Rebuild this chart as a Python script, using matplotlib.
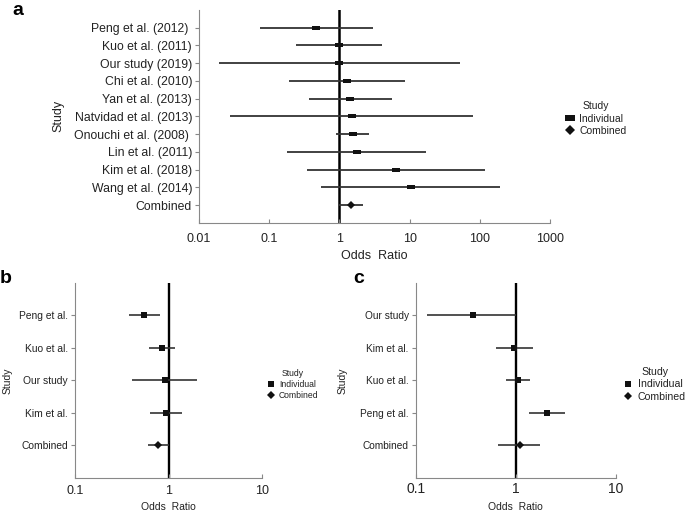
import numpy as np
from matplotlib import pyplot as plt
from matplotlib.lines import Line2D

plt.rcParams['font.family'] = ['Liberation Sans', 'DejaVu Sans']

# Data:

# panel a, top to bottom
a_studies = ['Peng et al. (2012) ', 'Kuo et al. (2011)', 'Our study (2019)', 'Chi et al. (2010)', 'Yan et al. (2013)',
             'Natvidad et al. (2013)', 'Onouchi et al. (2008) ', 'Lin et al. (2011)', 'Kim et al. (2018)',
             'Wang et al. (2014)', 'Combined']
a_or = [0.46, 0.98, 0.98, 1.27, 1.43, 1.5, 1.55, 1.77, 6.5, 10.5, 1.48]
a_lo = [0.074, 0.24, 0.019, 0.19, 0.37, 0.028, 0.9, 0.18, 0.34, 0.55, 1.0]
a_hi = [3.0, 4.0, 52, 8.7, 5.6, 80, 2.6, 17, 118, 194, 2.2]

# panel b
b_studies = ['Peng et al.', 'Kuo et al.', 'Our study', 'Kim et al.', 'Combined']
b_or = [0.55, 0.86, 0.91, 0.94, 0.78]
b_lo = [0.38, 0.62, 0.41, 0.64, 0.6]
b_hi = [0.81, 1.18, 2.0, 1.38, 1.0]

# panel c
c_studies = ['Our study', 'Kim et al.', 'Kuo et al.', 'Peng et al.', 'Combined']
c_or = [0.37, 0.96, 1.04, 2.06, 1.09]
c_lo = [0.13, 0.64, 0.79, 1.37, 0.66]
c_hi = [1.0, 1.48, 1.39, 3.1, 1.75]

rect = [(-1, -0.55), (1, -0.55), (1, 0.55), (-1, 0.55), (-1, -0.55)]


def forestPlot(ax, studies, odds, lo, hi, xlim, ticks, sq, dm_size, lw, fs_y, fs_x, fs_lab, xpad=5, ylabpad=3):
    n = len(studies)
    ypos = np.arange(n, 0, -1)
    for i in range(n):
        ax.plot([lo[i], hi[i]], [ypos[i], ypos[i]], color='#333333', lw=lw, solid_capstyle='butt', zorder=2)
        if studies[i] == 'Combined':
            ax.plot(odds[i], ypos[i], marker='D', ms=dm_size, color='#111111', mew=0, zorder=3)
        else:
            ax.plot(odds[i], ypos[i], marker=sq[0], ms=sq[1], color='#111111', mew=0, zorder=3)
    ax.axvline(1, color='black', lw=lw + 0.5, zorder=1)
    ax.set_xscale('log')
    ax.set_xlim(xlim)
    ax.set_ylim(0, n + 1)
    ax.set_xticks(ticks)
    ax.set_xticklabels(['%g' % t for t in ticks])
    ax.minorticks_off()
    ax.set_yticks(ypos)
    ax.set_yticklabels(studies)
    for s in ['top', 'right']:
        ax.spines[s].set_visible(False)
    for s in ['left', 'bottom']:
        ax.spines[s].set_color('#888888')
    ax.tick_params(axis='y', colors='#888888', labelcolor='#222222', labelsize=fs_y, length=3, pad=2)
    ax.tick_params(axis='x', direction='in', colors='#888888', labelcolor='#222222', labelsize=fs_x, length=3,
                   pad=xpad)
    ax.set_xlabel('Odds  Ratio', fontsize=fs_lab, color='#222222', labelpad=4)
    ax.set_ylabel('Study', fontsize=fs_lab, color='#222222', labelpad=ylabpad)
    return None


def studyLegend(ax, anchor, sq_marker, sq_size, dm_size, fs):
    handles = [Line2D([], [], ls='none', marker=sq_marker, ms=sq_size, color='#111111', mew=0, label='Individual'),
               Line2D([], [], ls='none', marker='D', ms=dm_size, color='#111111', mew=0, label='Combined')]
    leg = ax.legend(handles=handles, title='Study', loc='center left', bbox_to_anchor=anchor, frameon=False,
                    fontsize=fs, title_fontsize=fs, handlelength=0.8, handletextpad=0.5, labelspacing=0.25,
                    borderaxespad=0, borderpad=0)
    leg.get_title().set_color('#222222')
    for t in leg.get_texts():
        t.set_color('#222222')
    return None


fig = plt.figure(figsize=(6.85, 5.15), dpi=100)

ax_a = fig.add_axes([0.2905, 0.567, 0.5125, 0.414])
forestPlot(ax_a, a_studies, a_or, a_lo, a_hi, (0.01, 1000), [0.01, 0.1, 1, 10, 100, 1000],
           (rect, 5.5), 4.5, 1.3, 8.8, 9, 9, xpad=7, ylabpad=7)
studyLegend(ax_a, (1.045, 0.49), rect, 7, 5.5, 7.5)

ax_b = fig.add_axes([0.1095, 0.072, 0.273, 0.3785])
forestPlot(ax_b, b_studies, b_or, b_lo, b_hi, (0.1, 10), [0.1, 1, 10], ('s', 4.5), 4, 1.2, 7.4, 9, 7.5,
           ylabpad=5)
studyLegend(ax_b, (1.03, 0.48), 's', 4.5, 4, 6.2)

ax_c = fig.add_axes([0.607, 0.072, 0.292, 0.3785])
forestPlot(ax_c, c_studies, c_or, c_lo, c_hi, (0.1, 10), [0.1, 1, 10], ('s', 4.5), 4, 1.2, 7.3, 10, 7.5,
           xpad=3, ylabpad=9)
studyLegend(ax_c, (1.04, 0.48), 's', 5, 4.5, 7.6)

fig.text(0.018, 0.997, 'a', fontsize=14, fontweight='bold', va='top')
fig.text(0.0, 0.475, 'b', fontsize=14, fontweight='bold', va='top')
fig.text(0.515, 0.475, 'c', fontsize=14, fontweight='bold', va='top')

plt.savefig('out.png', dpi=100)
